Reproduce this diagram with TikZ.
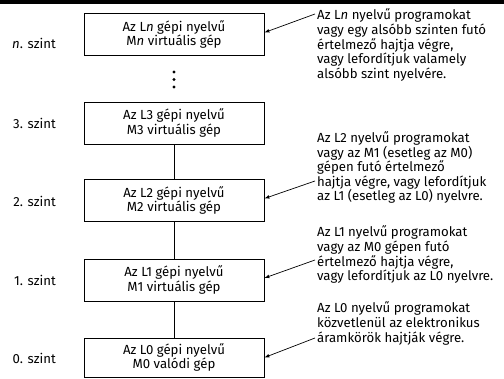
\documentclass[tikz,border=0pt]{standalone}
\usepackage{fontspec}
\setmainfont{Fira Sans}
\usetikzlibrary{arrows}
\newcommand{\szoveg}{\fontsize{13.2}{14.6}\selectfont}

\begin{document}
\begin{tikzpicture}[x=1pt,y=-1pt,
  gep/.style={draw,line width=0.9pt,minimum width=180pt,minimum height=42pt,
    inner sep=0pt,align=center,font=\szoveg},
  szint/.style={anchor=east,inner sep=0pt,font=\szoveg},
  magyaraz/.style={anchor=base west,inner sep=0pt,align=left,font=\szoveg},
  nyil/.style={-latex,line width=0.7pt}]
  \useasboundingbox (0,0) rectangle (504,379);
  \draw[line width=3.6pt] (0,1.8) -- (504,1.8);
  \node[gep] (gn) at (174,34.5) {Az L\textit{n} gépi nyelvű\\M\textit{n} virtuális gép};
  \node[gep] (g3) at (174,123)  {Az L3 gépi nyelvű\\M3 virtuális gép};
  \node[gep] (g2) at (174,200.5) {Az L2 gépi nyelvű\\M2 virtuális gép};
  \node[gep] (g1) at (174,280)  {Az L1 gépi nyelvű\\M1 virtuális gép};
  \node[gep,minimum height=39pt] (g0) at (174,357.5) {Az L0 gépi nyelvű\\M0 valódi gép};
  \node[szint] (sn) at (56,43)    {\textit{n}. szint};
  \node[szint] (s3) at (56,123)   {3. szint};
  \node[szint] (s2) at (56,201)   {2. szint};
  \node[szint] (s1) at (56,280)   {1. szint};
  \node[szint] (s0) at (56,358)   {0. szint};
  \foreach \y in {72,79.5,87}
    \fill (174,\y) circle(1.6);
  \draw[line width=0.9pt] (g3) -- (g2);
  \draw[line width=0.9pt] (g2) -- (g1);
  \draw[line width=0.9pt] (g1) -- (g0);
  % anchor=base west is the baseline of the last line
  \node[magyaraz] (mn) at (317,78.4) {Az L\textit{n} nyelvű programokat\\vagy egy alsóbb szinten futó\\értelmező hajtja végre,\\vagy lefordítjuk valamely\\alsóbb szint nyelvére.};
  \node[magyaraz] (m2) at (317,200.9) {Az L2 nyelvű programokat\\vagy az M1 (esetleg az M0)\\gépen futó értelmező\\hajtja végre, vagy lefordítjuk\\az L1 (esetleg az L0) nyelvre.};
  \node[magyaraz] (m1) at (317,280.8) {Az L1 nyelvű programokat\\vagy az M0 gépen futó\\értelmező hajtja végre,\\vagy lefordítjuk az L0 nyelvre.};
  \node[magyaraz] (m0) at (317,342.2) {Az L0 nyelvű programokat\\közvetlenül az elektronikus\\áramkörök hajtják végre.};
  \coordinate (an) at (315,14);
  \coordinate (a2) at (315,181);
  \coordinate (a1) at (315,260);
  \coordinate (a0) at (315,338);
  \draw[nyil] (an) -- ([yshift=2pt]gn.east);
  \draw[nyil] (a2) -- ([yshift=2pt]g2.east);
  \draw[nyil] (a1) -- ([yshift=2pt]g1.east);
  \draw[nyil] (a0) -- (g0.east);
\end{tikzpicture}
\end{document}
